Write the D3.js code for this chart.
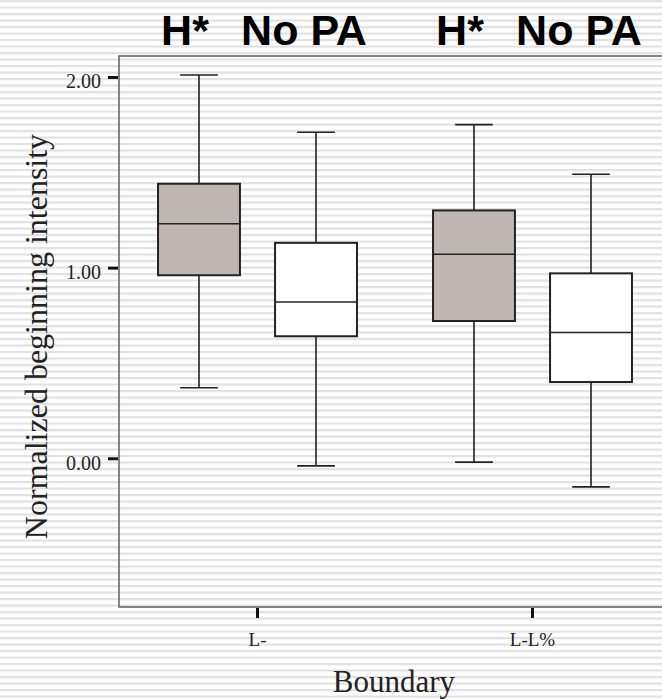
<!DOCTYPE html>
<html>
<head>
<meta charset="utf-8">
<script src="https://d3js.org/d3.v7.min.js"></script>
<style>
  body { margin: 0; background: #fff; }
  svg { display: block; }
  .serif text, text.serif { font-family: "Liberation Serif", "Times New Roman", serif; }
</style>
</head>
<body>
<script>
// boundary categories and pitch accent groups
const boundaries = ['L-', 'L-L%'];
const accents = ['H*', 'No PA'];
// box stats per boundary, order: H*, No PA
const whiskLow  = [[0.37, -0.04], [-0.02, -0.15]];
const q1        = [[0.96, 0.64], [0.72, 0.40]];
const medians   = [[1.23, 0.82], [1.07, 0.66]];
const q3        = [[1.44, 1.13], [1.30, 0.97]];
const whiskHigh = [[2.01, 1.71], [1.75, 1.49]];
const yTicks = [0, 1, 2];

const width = 662, height = 699;
const margin = {top: 56, right: -20, bottom: 92, left: 119};

const svg = d3.select('body').append('svg')
  .attr('width', width).attr('height', height);

// striped backdrop
const pat = svg.append('defs').append('pattern')
  .attr('id', 'stripes').attr('patternUnits', 'userSpaceOnUse')
  .attr('width', 10).attr('height', 6.5);
pat.append('rect').attr('width', 10).attr('height', 6.5).attr('fill', '#fff');
pat.append('rect').attr('y', 0).attr('width', 10).attr('height', 2.2).attr('fill', '#e1e1e1');
svg.append('rect').attr('width', width).attr('height', height).attr('fill', 'url(#stripes)');

const y = d3.scaleLinear().domain([-0.78, 2.11]).range([height - margin.bottom, margin.top]);
const x = d3.scaleBand().domain(boundaries).range([margin.left + 1, margin.left + 551]);
const xi = d3.scaleBand().domain(accents).range([0, x.bandwidth()])
  .paddingInner(0.3).paddingOuter(0.325);
const fill = d3.scaleOrdinal().domain(accents).range(['#bfb6b3', '#ffffff']);

// frame
svg.append('rect')
  .attr('x', margin.left).attr('y', margin.top)
  .attr('width', width - margin.left - margin.right)
  .attr('height', height - margin.top - margin.bottom)
  .attr('fill', 'none').attr('stroke', '#6e6464').attr('stroke-width', 1.6);

// y axis
const yAxis = svg.append('g')
  .attr('class', 'serif')
  .attr('transform', `translate(${margin.left - 1},0)`)
  .call(d3.axisLeft(y).tickValues(yTicks).tickFormat(d3.format('.2f')).tickSize(10).tickPadding(7));
yAxis.select('.domain').remove();
yAxis.selectAll('.tick line').attr('stroke', '#111').attr('stroke-width', 3);
yAxis.selectAll('.tick text')
  .attr('font-size', 20).attr('fill', '#222').attr('dy', '0.55em');

// x axis
const xAxis = svg.append('g')
  .attr('class', 'serif')
  .attr('transform', `translate(0,${height - margin.bottom + 1})`)
  .call(d3.axisBottom(x).tickSize(10).tickPadding(15));
xAxis.select('.domain').remove();
xAxis.selectAll('.tick line').attr('stroke', '#111').attr('stroke-width', 3);
xAxis.selectAll('.tick text')
  .attr('font-size', 19).attr('fill', '#222');

// boxes
const boxes = [];
boundaries.forEach((b, i) => accents.forEach((a, j) => boxes.push({
  b, a, lo: whiskLow[i][j], q1: q1[i][j], med: medians[i][j], q3: q3[i][j], hi: whiskHigh[i][j]
})));

const bw = xi.bandwidth();
const g = svg.append('g').selectAll('g').data(boxes).join('g')
  .attr('transform', d => `translate(${x(d.b) + xi(d.a)},0)`);

g.append('line')
  .attr('x1', bw / 2).attr('x2', bw / 2)
  .attr('y1', d => y(d.hi)).attr('y2', d => y(d.lo))
  .attr('stroke', '#222').attr('stroke-width', 1.6);
g.selectAll('.cap').data(d => [d.lo, d.hi]).join('line')
  .attr('x1', bw / 2 - bw * 0.23).attr('x2', bw / 2 + bw * 0.23)
  .attr('y1', v => y(v)).attr('y2', v => y(v))
  .attr('stroke', '#222').attr('stroke-width', 1.6);
g.append('rect')
  .attr('y', d => y(d.q3)).attr('width', bw)
  .attr('height', d => y(d.q1) - y(d.q3))
  .attr('fill', d => fill(d.a)).attr('stroke', '#222').attr('stroke-width', 2);
g.append('line')
  .attr('x1', 0).attr('x2', bw)
  .attr('y1', d => y(d.med)).attr('y2', d => y(d.med))
  .attr('stroke', '#222').attr('stroke-width', 1.6);

// group labels above
g.append('text')
  .attr('x', d => bw / 2 + (d.a === 'H*' ? -14 : -12))
  .attr('y', 45)
  .attr('text-anchor', 'middle')
  .attr('font-family', 'Liberation Sans, Arial, sans-serif')
  .attr('font-weight', 'bold').attr('font-size', 43).attr('fill', '#000')
  .text(d => d.a);

// axis titles
svg.append('text')
  .attr('class', 'serif')
  .attr('x', x('L-') + x.bandwidth() - 1).attr('y', 692)
  .attr('text-anchor', 'middle')
  .attr('font-size', 31).attr('fill', '#222')
  .text('Boundary');

svg.append('text')
  .attr('class', 'serif')
  .attr('transform', `translate(47,${(margin.top + height - margin.bottom) / 2 + 5}) rotate(-90)`)
  .attr('text-anchor', 'middle')
  .attr('font-size', 32).attr('fill', '#222')
  .text('Normalized beginning intensity');
</script>
</body>
</html>
